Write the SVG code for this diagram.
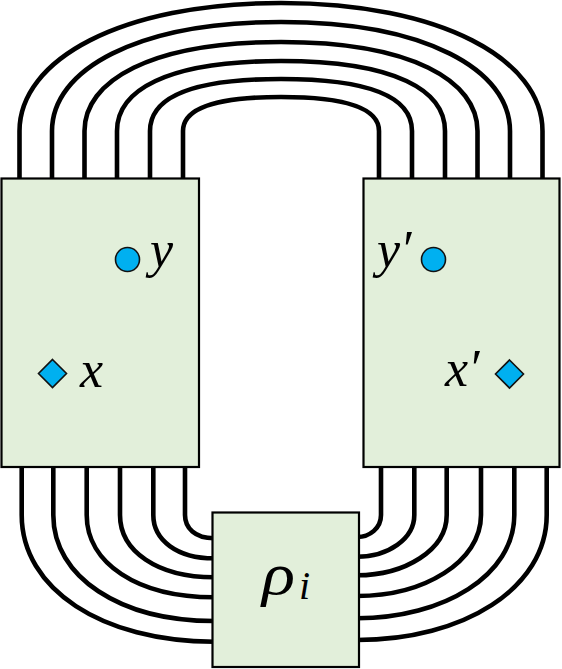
<svg xmlns="http://www.w3.org/2000/svg" width="562" height="669" viewBox="0 0 562 669">
<style>
.w{fill:none;stroke:#000;stroke-width:4.6}
.box{fill:#E2EFDA;stroke:#000;stroke-width:2.2}
.pt{fill:#00B0F0;stroke:#111;stroke-width:1.6}
.lbl{font-family:"Liberation Serif","Times New Roman",serif;font-style:italic;fill:#000}
</style>
<rect width="562" height="669" fill="#fff"/>
<g id="connectors">
<path class="w" d="M19.5 180 V131 C19.5 60 120 3 281 3 C442 3 542.5 60 542.5 131 V180"/>
<path class="w" d="M52 180 V131 C52 70 136 22 281 22 C426 22 510 70 510 131 V180"/>
<path class="w" d="M84.5 180 V131 C84.5 81 150 42 281 42 C412 42 477.5 81 477.5 131 V180"/>
<path class="w" d="M117 180 V131 C117 91 165 61 281 61 C397 61 445 91 445 131 V180"/>
<path class="w" d="M150 180 V131 C150 102 180 79 281 79 C382 79 412 102 412 131 V180"/>
<path class="w" d="M183 180 V131 C183 112 206 97 281 97 C356 97 379 112 379 131 V180"/>

<path class="w" d="M21.7 465 V515 C21.7 589 102 641.7 214 641.7"/>
<path class="w" d="M53.3 465 V515 C53.3 577 120 621 214 621"/>
<path class="w" d="M86.7 465 V515 C86.7 563 137 597.3 214 597.3"/>
<path class="w" d="M120 465 V515 C120 551 157 577.3 214 577.3"/>
<path class="w" d="M153.3 465 V515 C153.3 540 177 558.3 214 558.3"/>
<path class="w" d="M185 465 V515 C185 528 195 538.3 214 538.3"/>

<path class="w" d="M381 465 V515 C381 528 370 537 357 537"/>
<path class="w" d="M414.3 465 V515 C414.3 539 388 556.7 357 556.7"/>
<path class="w" d="M446.7 465 V515 C446.7 550 405 575.3 357 575.3"/>
<path class="w" d="M481 465 V515 C481 562 424 596 357 596"/>
<path class="w" d="M514.3 465 V515 C514.3 575 444 618.3 357 618.3"/>
<path class="w" d="M546.7 465 V515 C546.7 588 464 640 357 640"/>
</g>
<g id="left-box">
<rect class="box" x="1.5" y="178.5" width="197.5" height="288.5"/>
<circle class="pt" cx="127.5" cy="259.5" r="12"/>
<text class="lbl" x="150" y="267" font-size="52">y</text>
<polygon class="pt" points="52.5,359.5 66.5,373.5 52.5,387.5 38.5,373.5"/>
<text class="lbl" x="80" y="387" font-size="52">x</text>
</g>
<g id="right-box">
<rect class="box" x="363.5" y="178.5" width="196" height="288.5"/>
<circle class="pt" cx="433.5" cy="259.5" r="12"/>
<text class="lbl" x="377" y="267" font-size="52">y′</text>
<polygon class="pt" points="509.5,360 523.5,374 509.5,388 495.5,374"/>
<text class="lbl" x="445" y="386" font-size="52">x′</text>
</g>
<g id="rho-box">
<rect class="box" x="212.5" y="512.5" width="146.5" height="154.5"/>
<text class="lbl" x="262" y="594" font-size="60" textLength="33" lengthAdjust="spacingAndGlyphs">ρ</text>
<text class="lbl" x="299" y="599" font-size="40">i</text>
</g>
</svg>
